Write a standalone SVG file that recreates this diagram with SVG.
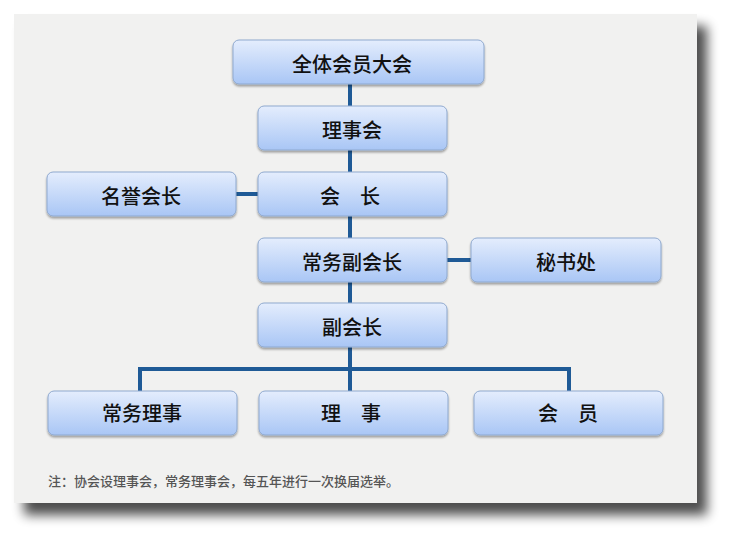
<svg xmlns="http://www.w3.org/2000/svg" width="733" height="541" viewBox="0 0 733 541">
<defs>
<linearGradient id="g" x1="0" y1="0" x2="0" y2="1"><stop offset="0" stop-color="#e4edfd"/><stop offset="1" stop-color="#a9c6f5"/></linearGradient>
<filter id="sh" x="-10%" y="-10%" width="130%" height="130%"><feGaussianBlur in="SourceAlpha" stdDeviation="6"/><feOffset dx="10" dy="12"/><feComponentTransfer><feFuncA type="linear" slope="0.7"/></feComponentTransfer><feMerge><feMergeNode/><feMergeNode in="SourceGraphic"/></feMerge></filter>
<filter id="bs" x="-10%" y="-20%" width="120%" height="150%"><feGaussianBlur in="SourceAlpha" stdDeviation="1.2"/><feOffset dx="0" dy="1.5"/><feComponentTransfer><feFuncA type="linear" slope="0.35"/></feComponentTransfer><feMerge><feMergeNode/><feMergeNode in="SourceGraphic"/></feMerge></filter>
</defs>
<style>
.b{fill:url(#g);stroke:#8fa9cf;stroke-width:1;filter:url(#bs)}
.t{font-family:"Noto Sans CJK SC","Noto Sans CJK JP",sans-serif;font-size:20px;font-weight:500;fill:#111;text-anchor:middle}
.c{stroke:#1f5a96;stroke-width:4;fill:none}
</style>
<rect width="733" height="541" fill="#fff"/>
<rect x="14" y="14" width="683" height="489" fill="#f1f1f0" filter="url(#sh)"/>
<g id="connectors">
<path class="c" d="M350 84V303M236 194H258M447 260H471M350 347V391M140 391V369H569V391"/>
</g>
<g id="n1"><rect class="b" x="233" y="40" width="251" height="44" rx="6"/><text class="t" x="352" y="72">全体会员大会</text></g>
<g id="n2"><rect class="b" x="258" y="106" width="189" height="44" rx="6"/><text class="t" x="352" y="138">理事会</text></g>
<g id="n3"><rect class="b" x="258" y="172" width="189" height="44" rx="6"/><text class="t" x="350" y="204">会　长</text></g>
<g id="n4"><rect class="b" x="47" y="172" width="189" height="44" rx="6"/><text class="t" x="141" y="204">名誉会长</text></g>
<g id="n5"><rect class="b" x="258" y="238" width="189" height="44" rx="6"/><text class="t" x="352" y="270">常务副会长</text></g>
<g id="n6"><rect class="b" x="471" y="238" width="190" height="44" rx="6"/><text class="t" x="566" y="270">秘书处</text></g>
<g id="n7"><rect class="b" x="258" y="303" width="189" height="44" rx="6"/><text class="t" x="352" y="335">副会长</text></g>
<g id="n8"><rect class="b" x="48" y="391" width="189" height="44" rx="6"/><text class="t" x="142" y="421">常务理事</text></g>
<g id="n9"><rect class="b" x="259" y="391" width="189" height="44" rx="6"/><text class="t" x="351" y="421">理　事</text></g>
<g id="n10"><rect class="b" x="474" y="391" width="189" height="44" rx="6"/><text class="t" x="568" y="421">会　员</text></g>
<text x="48" y="486" font-family="'Noto Sans CJK SC',sans-serif" font-size="13" font-weight="500" fill="#555">注：协会设理事会，常务理事会，每五年进行一次换届选举。</text>
</svg>
